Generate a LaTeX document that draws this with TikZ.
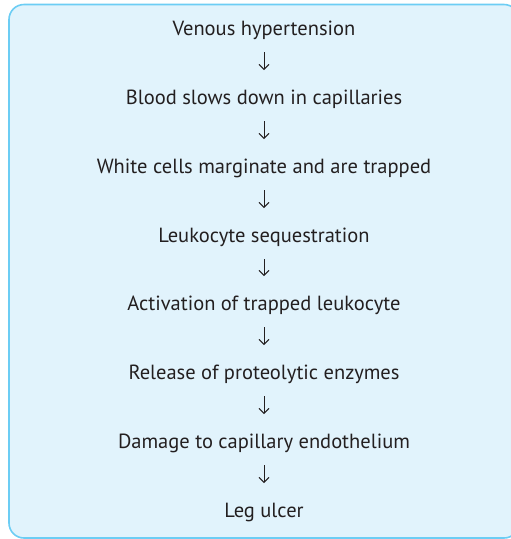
\documentclass[tikz,border=0pt]{standalone}
\usepackage{fontspec}
\setmainfont{PT Sans}
\usetikzlibrary{arrows.meta}
\definecolor{boxfill}{HTML}{E1F3FC}
\definecolor{boxline}{HTML}{6CCDF4}
\definecolor{txt}{HTML}{231F20}
\begin{document}
\begin{tikzpicture}[x=1pt,y=1pt,
  stepnode/.style={anchor=base,inner sep=0pt,text=txt,font=\fontsize{20.5}{24}\selectfont},
  arr/.style={draw=txt,line width=0.9pt,-{Straight Barb[length=5pt,width=10pt,line width=0.9pt]}}]
\useasboundingbox (0,0) rectangle (511,-539);
\draw[boxline,fill=boxfill,line width=1.6pt,rounded corners=15pt] (9,-4.5) rectangle (519,-538);
\node[stepnode] (n1) at (264,-35) {Venous hypertension};
\node[stepnode] (n2) at (264,-104) {Blood slows down in capillaries};
\node[stepnode] (n3) at (264,-173) {White cells marginate and are trapped};
\node[stepnode] (n4) at (264,-242) {Leukocyte sequestration};
\node[stepnode] (n5) at (264,-310) {Activation of trapped leukocyte};
\node[stepnode] (n6) at (264,-379) {Release of proteolytic enzymes};
\node[stepnode] (n7) at (264,-448) {Damage to capillary endothelium};
\node[stepnode] (n8) at (264,-517) {Leg ulcer};
\foreach \a/\b in {n1/n2,n2/n3,n3/n4,n4/n5,n5/n6,n6/n7,n7/n8}
  \draw[arr] ([yshift=-17pt]\a.base) -- ([yshift=34pt]\b.base);
\end{tikzpicture}
\end{document}
